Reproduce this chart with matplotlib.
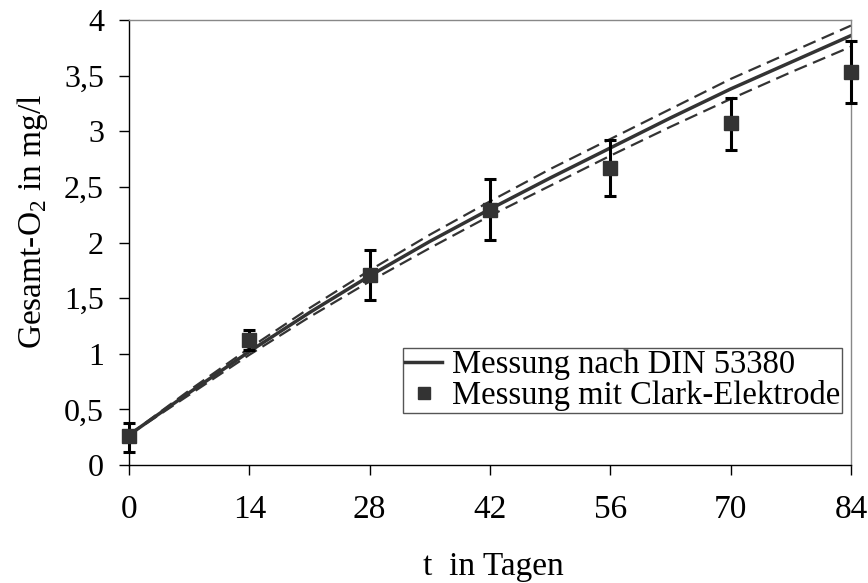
import matplotlib
matplotlib.use("Agg")
import matplotlib.pyplot as plt

plt.rcParams['font.family'] = ['Liberation Serif', 'DejaVu Serif']
plt.rcParams['mathtext.fontset'] = 'custom'
plt.rcParams['mathtext.rm'] = 'Liberation Serif'

# data
line_t = [0, 7, 14, 21, 28, 35, 42, 49, 56, 63, 70, 77, 84]
din = [0.27, 0.65, 1.02, 1.37, 1.70, 2.01, 2.30, 2.58, 2.85, 3.12, 3.38, 3.62, 3.86]
din_upper = [0.27, 0.67, 1.05, 1.41, 1.75, 2.07, 2.37, 2.66, 2.93, 3.20, 3.47, 3.71, 3.95]
din_lower = [0.27, 0.63, 0.99, 1.33, 1.65, 1.95, 2.24, 2.51, 2.78, 3.04, 3.29, 3.53, 3.76]

clark_t = [0, 14, 28, 42, 56, 70, 84]
clark = [0.26, 1.12, 1.71, 2.29, 2.67, 3.07, 3.53]
clark_lo = [0.12, 1.03, 1.48, 2.02, 2.42, 2.83, 3.25]
clark_hi = [0.38, 1.21, 1.93, 2.57, 2.92, 3.30, 3.81]

xticks = [0, 14, 28, 42, 56, 70, 84]
yticks = [0, 0.5, 1, 1.5, 2, 2.5, 3, 3.5, 4]
ytick_labels = ["0", "0,5", "1", "1,5", "2", "2,5", "3", "3,5", "4"]

W, H = 868, 583
fig = plt.figure(figsize=(W/100, H/100), dpi=100)
L, R, T, B = 129, 851, 20, 465
ax = fig.add_axes([L/W, 1-B/H, (R-L)/W, (B-T)/H])

c = '#333333'
ax.plot(line_t, din_upper, color=c, lw=1.6, ls=(0, (6, 3)))
ax.plot(line_t, din_lower, color=c, lw=1.6, ls=(0, (6, 3)))
l1, = ax.plot(line_t, din, color=c, lw=2.5, label='Messung nach DIN 53380')

err_lo = [v - lo for v, lo in zip(clark, clark_lo)]
err_hi = [hi - v for v, hi in zip(clark, clark_hi)]
ax.errorbar(clark_t, clark, yerr=[err_lo, err_hi], fmt='none', ecolor='black',
            elinewidth=2.2, capsize=4.5, capthick=2.2, zorder=3, clip_on=False)
m1, = ax.plot(clark_t, clark, 's', color=c, ms=10, zorder=4, ls='none',
              label='Messung mit Clark-Elektrode', clip_on=False)

ax.set_xlim(0, 84)
ax.set_ylim(0, 4)
ax.set_xticks(xticks)
ax.set_yticks(yticks)
ax.set_yticklabels(ytick_labels)
ax.tick_params(axis='both', direction='out', length=7, width=1, color='black')
ax.tick_params(axis='x', pad=14, labelsize=24)
ax.tick_params(axis='y', pad=11, labelsize=23)
for s in ['top', 'right']:
    ax.spines[s].set_color('#888888')
    ax.spines[s].set_linewidth(1)
for s in ['left', 'bottom']:
    ax.spines[s].set_color('black')
    ax.spines[s].set_linewidth(1)

ax.set_xlabel('t  in Tagen', fontsize=24)
ax.xaxis.set_label_coords(0.505, -0.194)
ax.set_ylabel('Gesamt-O$_2$ in mg/l', fontsize=24)
ax.yaxis.set_label_coords(-0.109, 0.548)

leg = ax.legend(handles=[l1, m1], loc='lower right', bbox_to_anchor=(0.9875, 0.117),
                fontsize=23.5, frameon=True, fancybox=False, edgecolor='#555555',
                framealpha=1, borderpad=0.05, labelspacing=0.0, handlelength=1.15,
                handletextpad=0.3, borderaxespad=0, markerscale=0.85)
leg.get_frame().set_linewidth(1)

fig.savefig('out.png', dpi=100)
